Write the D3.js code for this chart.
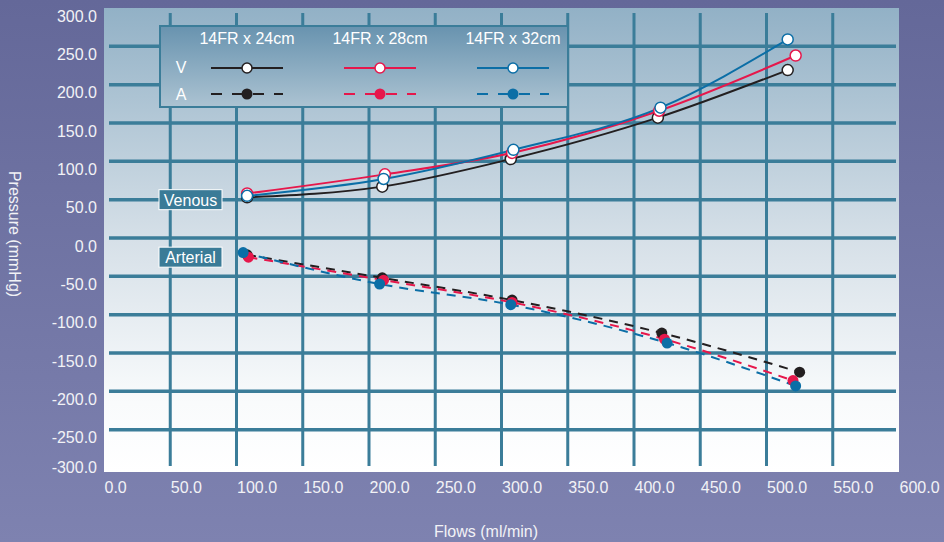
<!DOCTYPE html>
<html>
<head>
<meta charset="utf-8">
<script src="https://cdn.jsdelivr.net/npm/d3@7"></script>
<style>
  html, body { margin: 0; padding: 0; background: #6f729f; }
  svg { display: block; font-family: "Liberation Sans", Arial, Helvetica, sans-serif; }
</style>
</head>
<body>
<div id="chart"></div>
<script>
// series names and colours
const seriesNames = ["14FR x 24cm", "14FR x 28cm", "14FR x 32cm"];
const seriesColors = ["#231f20", "#e6174b", "#0b6ea6"];

// venous pressure (open circles, solid)
const venousFlow24 = [108, 210, 307, 418, 516];
const venousPress24 = [53, 67, 103, 157, 219];
const venousFlow28 = [108, 212, 308, 419, 522];
const venousPress28 = [58, 83, 111, 166, 238];
const venousFlow32 = [108, 211, 309, 420, 516];
const venousPress32 = [55, 77, 115, 170, 259];

// arterial pressure (filled circles, dashed)
const arterialFlow24 = [108, 210, 308, 421, 525];
const arterialPress24 = [-22, -52, -81, -124, -175];
const arterialFlow28 = [109, 211, 308, 423, 520];
const arterialPress28 = [-25, -55, -84, -132, -186];
const arterialFlow32 = [105, 208, 307, 425, 522];
const arterialPress32 = [-19, -60, -87, -137, -193];

// axis ticks
const xTicks = [0, 50, 100, 150, 200, 250, 300, 350, 400, 450, 500, 550, 600];
const yTicks = [300, 250, 200, 150, 100, 50, 0, -50, -100, -150, -200, -250, -300];

const W = 944, H = 542;
const plotLeft = 104, plotRight = 899, plotTop = 8, plotBottom = 472;

const svg = d3.select("#chart").append("svg")
    .attr("width", W)
    .attr("height", H);

const defs = svg.append("defs");

function gradient(id, stops) {
    const g = defs.append("linearGradient")
        .attr("id", id)
        .attr("x1", 0).attr("y1", 0).attr("x2", 0).attr("y2", 1);
    stops.forEach(s => g.append("stop").attr("offset", s[0]).attr("stop-color", s[1]));
}
gradient("bg", [["0%", "#646899"], ["100%", "#7e82b0"]]);
gradient("plotbg", [["0%", "#92b1c6"], ["50%", "#d6e0e8"], ["85%", "#f9fbfc"], ["100%", "#ffffff"]]);
gradient("legbg", [["0%", "#6893af"], ["100%", "#acc3d2"]]);

svg.append("rect").attr("width", W).attr("height", H).attr("fill", "url(#bg)");

const x = d3.scaleLinear().domain([0, 600]).range([plotLeft, plotRight]);
const y = d3.scaleLinear().domain([-300, 300]).range([468, plotTop]);

svg.append("rect")
    .attr("x", plotLeft).attr("y", plotTop)
    .attr("width", plotRight - plotLeft).attr("height", plotBottom - plotTop)
    .attr("fill", "url(#plotbg)");

// grid lines
const gridColor = "#3b7d99";
svg.append("g").selectAll("line")
    .data(xTicks.filter(d => d > 0 && d < 600))
    .enter().append("line")
    .attr("x1", d => x(d)).attr("x2", d => x(d))
    .attr("y1", plotTop + 5).attr("y2", plotBottom - 6)
    .attr("stroke", gridColor).attr("stroke-width", 3);

svg.append("g").selectAll("line")
    .data(yTicks.filter(d => d > -300 && d < 300))
    .enter().append("line")
    .attr("x1", plotLeft + 5).attr("x2", plotRight - 3)
    .attr("y1", d => y(d)).attr("y2", d => y(d))
    .attr("stroke", gridColor).attr("stroke-width", 3.5);

// axes (labels only), plain hyphen for negatives
const fmt = d => d.toFixed(1);
const xAxis = svg.append("g")
    .attr("transform", `translate(0,${plotBottom})`)
    .call(d3.axisBottom(x).tickValues(xTicks).tickFormat(fmt).tickSize(0));
xAxis.select(".domain").remove();
xAxis.selectAll("text")
    .attr("text-anchor", "start")
    .attr("y", 21).attr("dy", 0)
    .attr("fill", "#f2f2f6")
    .style("font-size", "16px")
    .style("font-family", "Liberation Sans, Arial, sans-serif");

const yAxis = svg.append("g")
    .attr("transform", `translate(${plotLeft},0)`)
    .call(d3.axisLeft(y).tickValues(yTicks).tickFormat(fmt).tickSize(0));
yAxis.select(".domain").remove();
yAxis.selectAll("text")
    .attr("x", -7)
    .attr("y", d => Math.min(13, plotBottom - y(d)))
    .attr("dy", 0)
    .attr("fill", "#f2f2f6")
    .style("font-size", "16px")
    .style("font-family", "Liberation Sans, Arial, sans-serif");

svg.append("text")
    .attr("transform", "translate(9,234) rotate(90)")
    .attr("text-anchor", "middle")
    .attr("fill", "#f2f2f6")
    .style("font-size", "16px")
    .text("Pressure (mmHg)");

svg.append("text")
    .attr("x", 486).attr("y", 537)
    .attr("text-anchor", "middle")
    .attr("fill", "#f2f2f6")
    .style("font-size", "16px")
    .text("Flows (ml/min)");

// legend box
svg.append("rect")
    .attr("x", 160).attr("y", 26)
    .attr("width", 408).attr("height", 81)
    .attr("fill", "url(#legbg)")
    .attr("stroke", "#3b7d99").attr("stroke-width", 2);

const legCenters = [247, 380, 513];
seriesNames.forEach((name, i) => {
    const cx = legCenters[i];
    svg.append("text")
        .attr("x", cx).attr("y", 44)
        .attr("text-anchor", "middle")
        .attr("fill", "#ffffff")
        .style("font-size", "16px")
        .text(name);
    svg.append("line")
        .attr("x1", cx - 36).attr("x2", cx + 36)
        .attr("y1", 68).attr("y2", 68)
        .attr("stroke", seriesColors[i]).attr("stroke-width", 2);
    svg.append("circle")
        .attr("cx", cx).attr("cy", 68).attr("r", 5)
        .attr("fill", "#fff").attr("stroke", seriesColors[i]).attr("stroke-width", 1.5);
    svg.append("line")
        .attr("x1", cx - 36).attr("x2", cx + 36)
        .attr("y1", 94).attr("y2", 94)
        .attr("stroke", seriesColors[i]).attr("stroke-width", 2)
        .attr("stroke-dasharray", "11,10");
    svg.append("circle")
        .attr("cx", cx).attr("cy", 94).attr("r", 5.5)
        .attr("fill", seriesColors[i]);
});
svg.append("text").attr("x", 181).attr("y", 73).attr("text-anchor", "middle")
    .attr("fill", "#fff").style("font-size", "16px").text("V");
svg.append("text").attr("x", 181).attr("y", 100).attr("text-anchor", "middle")
    .attr("fill", "#fff").style("font-size", "16px").text("A");

// Venous / Arterial tags
[["Venous", 50], ["Arterial", -25]].forEach(t => {
    const cy = y(t[1]);
    svg.append("rect")
        .attr("x", 159).attr("y", cy - 10)
        .attr("width", 63).attr("height", 20)
        .attr("fill", "#3a7b97")
        .attr("stroke", "#ffffff").attr("stroke-width", 1);
    svg.append("text")
        .attr("x", 190.5).attr("y", cy + 6)
        .attr("text-anchor", "middle")
        .attr("fill", "#fff")
        .style("font-size", "16px")
        .text(t[0]);
});

// data lines
const line = d3.line()
    .x(d => x(d[0]))
    .y(d => y(d[1]))
    .curve(d3.curveMonotoneX);

const venous = [
    d3.zip(venousFlow24, venousPress24),
    d3.zip(venousFlow28, venousPress28),
    d3.zip(venousFlow32, venousPress32)
];
const arterial = [
    d3.zip(arterialFlow24, arterialPress24),
    d3.zip(arterialFlow28, arterialPress28),
    d3.zip(arterialFlow32, arterialPress32)
];

arterial.forEach((pts, i) => {
    svg.append("path")
        .attr("d", line(pts))
        .attr("fill", "none")
        .attr("stroke", seriesColors[i])
        .attr("stroke-width", 2)
        .attr("stroke-dasharray", "9,7");
});
arterial.forEach((pts, i) => {
    svg.append("g").selectAll("circle")
        .data(pts)
        .enter().append("circle")
        .attr("cx", d => x(d[0]))
        .attr("cy", d => y(d[1]))
        .attr("r", 5.5)
        .attr("fill", seriesColors[i]);
});

venous.forEach((pts, i) => {
    svg.append("path")
        .attr("d", line(pts))
        .attr("fill", "none")
        .attr("stroke", seriesColors[i])
        .attr("stroke-width", 2);
});
venous.forEach((pts, i) => {
    svg.append("g").selectAll("circle")
        .data(pts)
        .enter().append("circle")
        .attr("cx", d => x(d[0]))
        .attr("cy", d => y(d[1]))
        .attr("r", 5.5)
        .attr("fill", "#ffffff")
        .attr("stroke", seriesColors[i])
        .attr("stroke-width", 1.5);
});
</script>
</body>
</html>
